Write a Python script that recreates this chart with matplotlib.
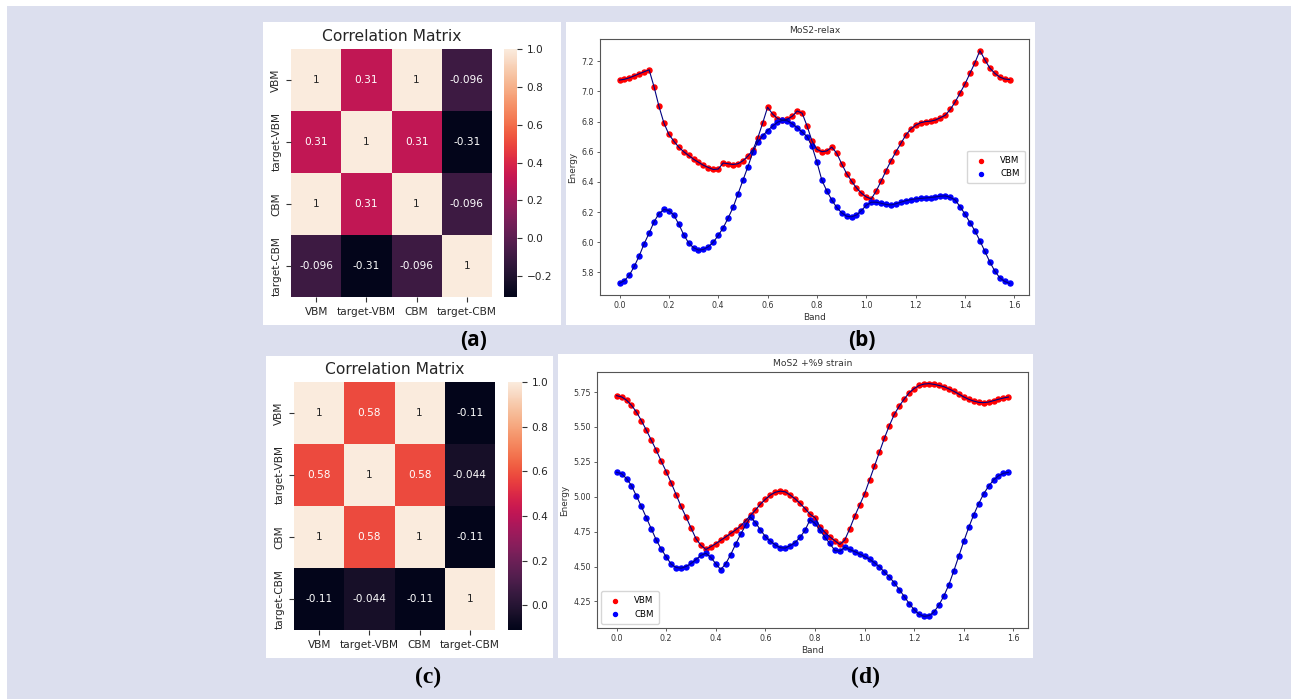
import numpy as np
import matplotlib
matplotlib.use("Agg")
import matplotlib.pyplot as plt
from matplotlib.patches import Rectangle
from matplotlib.colors import LinearSegmentedColormap, to_rgb

W, H = 1291, 699  # canvas size in pixels

# Correlation matrices
corr_labels = ["VBM", "target-VBM", "CBM", "target-CBM"]
corr_relax = [[1, 0.31, 1, -0.096],
              [0.31, 1, 0.31, -0.31],
              [1, 0.31, 1, -0.096],
              [-0.096, -0.31, -0.096, 1]]
corr_strain = [[1, 0.58, 1, -0.11],
               [0.58, 1, 0.58, -0.044],
               [1, 0.58, 1, -0.11],
               [-0.11, -0.044, -0.11, 1]]

# k-path positions (80 points, step 0.02)
kpath = np.round(np.arange(80) * 0.02, 2)

# MoS2 relaxed bands
relax_vbm = [7.075, 7.080, 7.090, 7.103, 7.117, 7.130, 7.143, 7.03, 6.90, 6.79,
             6.715, 6.67, 6.63, 6.60, 6.575, 6.55, 6.53, 6.51, 6.495, 6.482,
             6.485, 6.525, 6.52, 6.515, 6.52, 6.54, 6.57, 6.61, 6.69, 6.79,
             6.895, 6.85, 6.82, 6.81, 6.815, 6.835, 6.87, 6.855, 6.77, 6.67,
             6.615, 6.60, 6.605, 6.63, 6.59, 6.52, 6.455, 6.405, 6.36, 6.325,
             6.30, 6.287, 6.34, 6.405, 6.475, 6.54, 6.60, 6.655, 6.71, 6.75,
             6.776, 6.792, 6.80, 6.802, 6.81, 6.825, 6.842, 6.88, 6.93, 6.99,
             7.05, 7.12, 7.19, 7.27, 7.21, 7.155, 7.12, 7.095, 7.082, 7.078]
relax_cbm = [5.727, 5.745, 5.782, 5.84, 5.91, 5.99, 6.06, 6.135, 6.19, 6.217,
             6.21, 6.18, 6.12, 6.05, 5.995, 5.963, 5.948, 5.952, 5.97, 6.00,
             6.045, 6.095, 6.16, 6.23, 6.32, 6.41, 6.50, 6.595, 6.665, 6.705,
             6.74, 6.77, 6.795, 6.808, 6.805, 6.785, 6.76, 6.73, 6.70, 6.635,
             6.53, 6.41, 6.34, 6.28, 6.23, 6.195, 6.172, 6.168, 6.18, 6.21,
             6.245, 6.265, 6.265, 6.258, 6.25, 6.247, 6.255, 6.265, 6.275, 6.282,
             6.287, 6.29, 6.293, 6.296, 6.30, 6.305, 6.307, 6.297, 6.28, 6.235,
             6.185, 6.13, 6.075, 6.01, 5.94, 5.87, 5.81, 5.765, 5.74, 5.727]

# MoS2 under +9% strain
strain_vbm = [5.724, 5.715, 5.692, 5.655, 5.607, 5.545, 5.477, 5.405, 5.333, 5.255,
              5.18, 5.10, 5.015, 4.93, 4.855, 4.777, 4.70, 4.652, 4.622, 4.642,
              4.664, 4.688, 4.712, 4.737, 4.762, 4.79, 4.828, 4.866, 4.905, 4.947,
              4.982, 5.012, 5.032, 5.04, 5.035, 5.012, 4.985, 4.952, 4.915, 4.875,
              4.85, 4.785, 4.745, 4.712, 4.685, 4.658, 4.69, 4.77, 4.86, 4.94,
              5.02, 5.12, 5.22, 5.32, 5.42, 5.51, 5.59, 5.65, 5.70, 5.745,
              5.775, 5.797, 5.807, 5.81, 5.805, 5.797, 5.788, 5.772, 5.755, 5.735,
              5.715, 5.698, 5.685, 5.676, 5.674, 5.678, 5.688, 5.698, 5.707, 5.714]
strain_cbm = [5.175, 5.165, 5.13, 5.08, 5.005, 4.93, 4.85, 4.77, 4.69, 4.625,
              4.57, 4.517, 4.493, 4.488, 4.50, 4.522, 4.55, 4.58, 4.595, 4.565,
              4.52, 4.478, 4.52, 4.585, 4.66, 4.73, 4.795, 4.855, 4.815, 4.762,
              4.715, 4.682, 4.655, 4.635, 4.632, 4.65, 4.672, 4.71, 4.76, 4.835,
              4.81, 4.76, 4.71, 4.665, 4.615, 4.61, 4.638, 4.622, 4.607, 4.59,
              4.572, 4.552, 4.527, 4.498, 4.46, 4.425, 4.383, 4.335, 4.285, 4.235,
              4.19, 4.158, 4.143, 4.148, 4.175, 4.225, 4.29, 4.37, 4.47, 4.575,
              4.68, 4.78, 4.87, 4.95, 5.02, 5.075, 5.12, 5.15, 5.168, 5.174]

try:
    import seaborn as sns
    rocket = sns.color_palette("rocket", as_cmap=True)
except Exception:
    rocket = LinearSegmentedColormap.from_list(
        "rocket_approx",
        [(0.0, "#03051a"), (0.143, "#35193e"), (0.286, "#701f57"), (0.429, "#ad1759"),
         (0.571, "#e13342"), (0.714, "#f37651"), (0.857, "#f6b48f"), (1.0, "#faebdd")])


def rect(x0, y0, x1, y1):
    # pixel box (top-left origin) -> figure fraction
    return [x0 / W, 1 - y1 / H, (x1 - x0) / W, (y1 - y0) / H]


def luminance(c):
    rgb = np.array(to_rgb(c))
    rgb = np.where(rgb <= 0.03928, rgb / 12.92, ((rgb + 0.055) / 1.055) ** 2.4)
    return rgb.dot([0.2126, 0.7152, 0.0722])


def heatmap(ax_box, cb_box, data, cb_ticks):
    data = np.array(data, dtype=float)
    vmin, vmax = data.min(), data.max()
    ax = fig.add_axes(rect(*ax_box))
    mesh = ax.pcolormesh(data, cmap=rocket, vmin=vmin, vmax=vmax)
    ax.set_xlim(0, 4)
    ax.set_ylim(4, 0)
    for s in ax.spines.values():
        s.set_visible(False)
    ax.set_xticks(np.arange(4) + 0.5)
    ax.set_xticklabels(corr_labels, fontsize=7.6)
    ax.set_yticks(np.arange(4) + 0.5)
    ax.set_yticklabels(corr_labels, fontsize=7.6, rotation=90, va="center")
    ax.tick_params(length=3.5, width=0.8, color="#333333", labelcolor="#262626")
    ax.set_title("Correlation Matrix", fontsize=11.2, color="#262626")
    norm = plt.Normalize(vmin, vmax)
    for i in range(4):
        for j in range(4):
            v = data[i, j]
            col = rocket(norm(v))
            tc = "#262626" if luminance(col) > 0.408 else "white"
            ax.text(j + 0.5, i + 0.5, f"{v:.2g}", ha="center", va="center",
                    fontsize=7.6, color=tc)
    cax = fig.add_axes(rect(*cb_box))
    cb = fig.colorbar(mesh, cax=cax)
    cb.outline.set_visible(False)
    cb.set_ticks(cb_ticks)
    cax.tick_params(labelsize=7.6, length=3.5, width=0.8, color="#333333",
                    labelcolor="#262626")
    return ax


def bands(ax_box, title, vbm, cbm, loc):
    ax = fig.add_axes(rect(*ax_box))
    ax.scatter(kpath, vbm, s=13, color="red", label="VBM", zorder=2)
    ax.scatter(kpath, cbm, s=13, color="blue", label="CBM", zorder=2)
    ax.plot(kpath, vbm, color="navy", lw=0.8, zorder=3)
    ax.plot(kpath, cbm, color="navy", lw=0.8, zorder=3)
    ax.set_title(title, fontsize=6.6, pad=4, color="#333333")
    ax.set_xlabel("Band", fontsize=6.4, labelpad=2, color="#333333")
    ax.set_ylabel("Energy", fontsize=6.4, labelpad=3, color="#333333")
    ax.tick_params(labelsize=5.7, length=2.5, width=0.6, pad=2, color="#444444",
                   labelcolor="#333333")
    for s in ax.spines.values():
        s.set_color("#555555")
        s.set_linewidth(0.8)
    ax.legend(loc=loc, fontsize=6.2, handletextpad=1.2, borderpad=0.6,
              markerscale=0.8)
    return ax


fig = plt.figure(figsize=(W / 100, H / 100), dpi=100, facecolor="white")

# page background and white panel cards
fig.add_artist(Rectangle((7 / W, 0), 1 - 7 / W, 1 - 6 / H, transform=fig.transFigure,
                         facecolor="#dcdfee", edgecolor="none", zorder=-3))
for box in [(263, 22, 561, 325), (566, 22, 1035, 325),
            (266, 356, 553, 658), (558, 354, 1033, 658)]:
    x0, y0, x1, y1 = box
    fig.add_artist(Rectangle((x0 / W, 1 - y1 / H), (x1 - x0) / W, (y1 - y0) / H,
                             transform=fig.transFigure, facecolor="white",
                             edgecolor="none", zorder=-2))

heatmap((291, 49, 492, 297), (504, 49, 517, 297), corr_relax,
        [-0.2, 0.0, 0.2, 0.4, 0.6, 0.8, 1.0])
heatmap((294, 382, 495, 630), (508, 382, 522, 630), corr_strain,
        [0.0, 0.2, 0.4, 0.6, 0.8, 1.0])

bands((600, 39, 1029, 295), "MoS2-relax", relax_vbm, relax_cbm, "center right")
bands((597, 372, 1028, 628), "MoS2 +%9 strain", strain_vbm, strain_cbm, "lower left")

# panel letters
for (x, y, s, fam, size) in [(474, 341, "(a)", "Open Sans", 15),
                             (862, 341, "(b)", "Open Sans", 15),
                             (428, 677, "(c)", "Liberation Serif", 17),
                             (866, 677, "(d)", "Liberation Serif", 17)]:
    fig.text(x / W, 1 - y / H, s, ha="center", va="center", fontsize=size,
             fontweight="bold", family=fam, color="black")

fig.savefig("out.png", dpi=100, facecolor=fig.get_facecolor())
